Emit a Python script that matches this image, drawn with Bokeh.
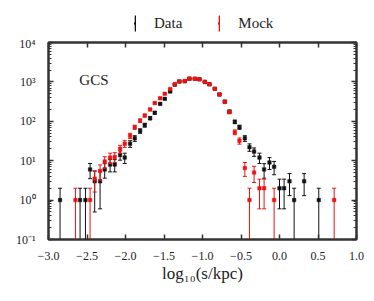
import numpy as np
from bokeh.plotting import figure
from bokeh.layouts import column
from bokeh.models import (Range1d, FixedTicker, LinearAxis, LogAxis, Legend,
                          LegendItem, Label)
from bokeh.embed import file_html
from bokeh.resources import INLINE

# ---------------- data ----------------
data_x = [-2.85, -2.59, -2.52, -2.46, -2.40, -2.33, -2.27, -2.20, -2.14, -2.07,
          -2.01, -1.94, -1.88, -1.81, -1.75, -1.68, -1.62, -1.55, -1.49, -1.42,
          -1.36, -1.30, -1.23, -1.17, -1.10, -1.04, -0.97, -0.91, -0.84, -0.78,
          -0.71, -0.65, -0.58, -0.52, -0.45, -0.39, -0.33, -0.26, -0.20, -0.13,
          -0.07, 0.00, 0.06, 0.13, 0.19, 0.32, 0.51]
data_y = [1, 1, 1, 6, 3, 3, 6, 8, 8, 14,
          12, 27, 37, 57, 80, 120, 165, 277, 372, 570,
          850, 1025, 1040, 1200, 1200, 1170, 1000, 870, 670, 480,
          317, 177, 97, 71, 37, 22, 17, 12, 6, 9,
          7, 2, 2, 3, 1, 3, 1]
data_err = [1, 1, 1, 2.5, 2.5, 2.4, 2.4, 2.8, 2.8, 3.7,
            3.5, 5.2, 6.1, 7.5, 8.9, 11.0, 12.8, 16.6, 19.3, 23.9,
            29.2, 32.0, 32.2, 34.6, 34.6, 34.2, 31.6, 29.5, 25.9, 21.9,
            17.8, 13.3, 9.8, 8.4, 6.1, 4.7, 4.1, 3.5, 2.4, 3.0,
            2.6, 1.4, 1.4, 1.7, 1, 1.7, 1]

mock_x = [-2.65, -2.46, -2.40, -2.33, -2.27, -2.20, -2.14, -2.07, -2.01, -1.94,
          -1.88, -1.81, -1.75, -1.68, -1.62, -1.55, -1.49, -1.42, -1.36, -1.30,
          -1.23, -1.17, -1.10, -1.04, -0.97, -0.91, -0.84, -0.78, -0.71, -0.65,
          -0.58, -0.52, -0.45, -0.39, -0.33, -0.26, -0.20, -0.07, 0.71]
mock_y = [1, 1, 3.5, 5.5, 9.5, 12, 12.5, 20, 27, 43,
          71, 104, 140, 200, 290, 385, 500, 660, 880, 1030,
          1050, 1220, 1200, 1160, 1000, 870, 670, 480, 310, 170,
          53, 32, 6.5, 1, 5, 2, 2, 1, 1]
mock_err = [1, 1, 1.9, 2.3, 3.1, 3.5, 3.5, 4.5, 5.2, 6.6,
            8.4, 10.2, 11.8, 14.1, 17.0, 19.6, 22.4, 25.7, 29.7, 32.1,
            32.4, 34.9, 34.6, 34.1, 31.6, 29.5, 25.9, 21.9, 17.6, 13.0,
            7.3, 5.7, 2.5, 1, 2.2, 1.4, 1.4, 1, 1]

x_ticks = [-3.0, -2.5, -2.0, -1.5, -1.0, -0.5, 0.0, 0.5, 1.0]
x_tick_labels = ["−3.0", "−2.5", "−2.0", "−1.5", "−1.0", "−0.5", "0.0", "0.5", "1.0"]
y_ticks = [0.1, 1.0, 10.0, 100.0, 1000.0, 10000.0]
y_tick_labels = ["10⁻¹", "10⁰", "10¹", "10²", "10³", "10⁴"]
y_minor = [m * 10.0 ** e for e in range(-1, 4) for m in range(2, 10)]
series_names = ["Data", "Mock"]

FONT = "Liberation Serif"
AX = "#333333"
BLACK = "#111111"
RED = "#ee1111"

p = figure(frame_width=308, frame_height=197, y_axis_type="log",
           x_range=Range1d(-3, 1), y_range=Range1d(0.1, 1e4),
           output_backend="svg", toolbar_location=None,
           min_border_left=48, min_border_right=8,
           min_border_top=6, min_border_bottom=50)
p.xgrid.visible = False
p.ygrid.visible = False
p.outline_line_color = AX
p.outline_line_width = 2
p.background_fill_color = "white"
p.border_fill_color = "white"


def overrides(ticks, labels):
    d = {}
    for t, s in zip(ticks, labels):
        d[float(t)] = s
        r = repr(float(t))
        d[r[:-2] if r.endswith(".0") else r] = s
    return d


def style(ax, labels=True):
    ax.axis_line_color = AX
    ax.axis_line_width = 2
    ax.major_tick_in = 5
    ax.major_tick_out = 0
    ax.minor_tick_in = 3
    ax.minor_tick_out = 0
    ax.major_tick_line_color = AX
    ax.major_tick_line_width = 1.5
    ax.minor_tick_line_color = AX
    ax.minor_tick_line_width = 1
    ax.major_label_text_font = FONT
    ax.major_label_text_color = "#222222"
    ax.major_label_text_font_size = "12px"
    if not labels:
        ax.major_label_text_color = None
        ax.major_label_text_alpha = 0
        ax.major_label_text_font_size = "1px"
        ax.major_label_standoff = 0


xt = FixedTicker(ticks=x_ticks, minor_ticks=[])
yt = FixedTicker(ticks=y_ticks, minor_ticks=y_minor)

xa = p.xaxis[0]
xa.ticker = xt
style(xa)
xa.major_label_overrides = overrides(x_ticks, x_tick_labels)
xa.major_label_standoff = 12
xa.axis_label = "log₁₀(s/kpc)"
xa.axis_label_text_font = FONT
xa.axis_label_text_font_style = "normal"
xa.axis_label_text_font_size = "17px"
xa.axis_label_text_color = "#222222"
xa.axis_label_standoff = 1

ya = p.yaxis[0]
ya.ticker = yt
style(ya)
ya.major_label_overrides = overrides(y_ticks, y_tick_labels)
ya.major_label_standoff = 13

top = LinearAxis(ticker=xt)
style(top, labels=False)
p.add_layout(top, "above")
right = LogAxis(ticker=yt)
style(right, labels=False)
p.add_layout(right, "right")


def errbars(xs, ys, es, color):
    xs = np.asarray(xs, float)
    ys = np.asarray(ys, float)
    es = np.asarray(es, float)
    lo = ys - es
    hi = ys + es
    lo_draw = np.where(lo > 0, lo, 1e-3)
    p.segment(x0=xs, y0=lo_draw, x1=xs, y1=hi, line_color=color, line_width=1)
    p.scatter(x=xs, y=hi, marker="dash", size=4, line_color=color, line_width=1)
    m = lo > 0
    p.scatter(x=xs[m], y=lo[m], marker="dash", size=4, line_color=color, line_width=1)
    p.scatter(x=xs, y=ys, marker="square", size=3.5, fill_color=color,
              line_color=color, line_width=0.5)


errbars(data_x, data_y, data_err, BLACK)
errbars(mock_x, mock_y, mock_err, RED)

p.add_layout(Label(x=-2.6, y=1150, text="GCS", text_font=FONT, text_font_size="15px",
                   text_baseline="middle", text_color="#222222"))

# ---------------- legend strip above the plot ----------------
lf = figure(width=364, height=36, output_backend="svg", toolbar_location=None,
            x_range=Range1d(0, 1), y_range=Range1d(0, 1),
            x_axis_location=None, y_axis_location=None, min_border=0)
lf.xgrid.visible = False
lf.ygrid.visible = False
lf.outline_line_color = None
lf.border_fill_color = "white"

# legend-only renderers: a single point kept outside the visible range
ld_bar = lf.rect(x=[-5], y=[-5], width=1, height=1, fill_color=BLACK, line_color=None)
ld_dot = lf.scatter(x=[-5], y=[-5], marker="square", fill_color=BLACK,
                    line_color=BLACK, line_width=2.5)
lm_bar = lf.rect(x=[-5], y=[-5], width=1, height=1, fill_color=RED, line_color=None)
lm_dot = lf.scatter(x=[-5], y=[-5], marker="square", fill_color=RED,
                    line_color=RED, line_width=2.5)
legend = Legend(items=[LegendItem(label=series_names[0], renderers=[ld_bar, ld_dot]),
                       LegendItem(label=series_names[1], renderers=[lm_bar, lm_dot])],
                orientation="horizontal", location=(86, 3),
                glyph_width=2, glyph_height=20, label_standoff=18, spacing=36,
                padding=0, margin=0, border_line_color=None,
                background_fill_alpha=0, label_text_font=FONT,
                label_text_font_size="15px", label_text_color="#222222",
                label_height=20)
lf.add_layout(legend, "center")

layout = column(lf, p, spacing=0)
open("out.html", "w").write(file_html(layout, INLINE))
